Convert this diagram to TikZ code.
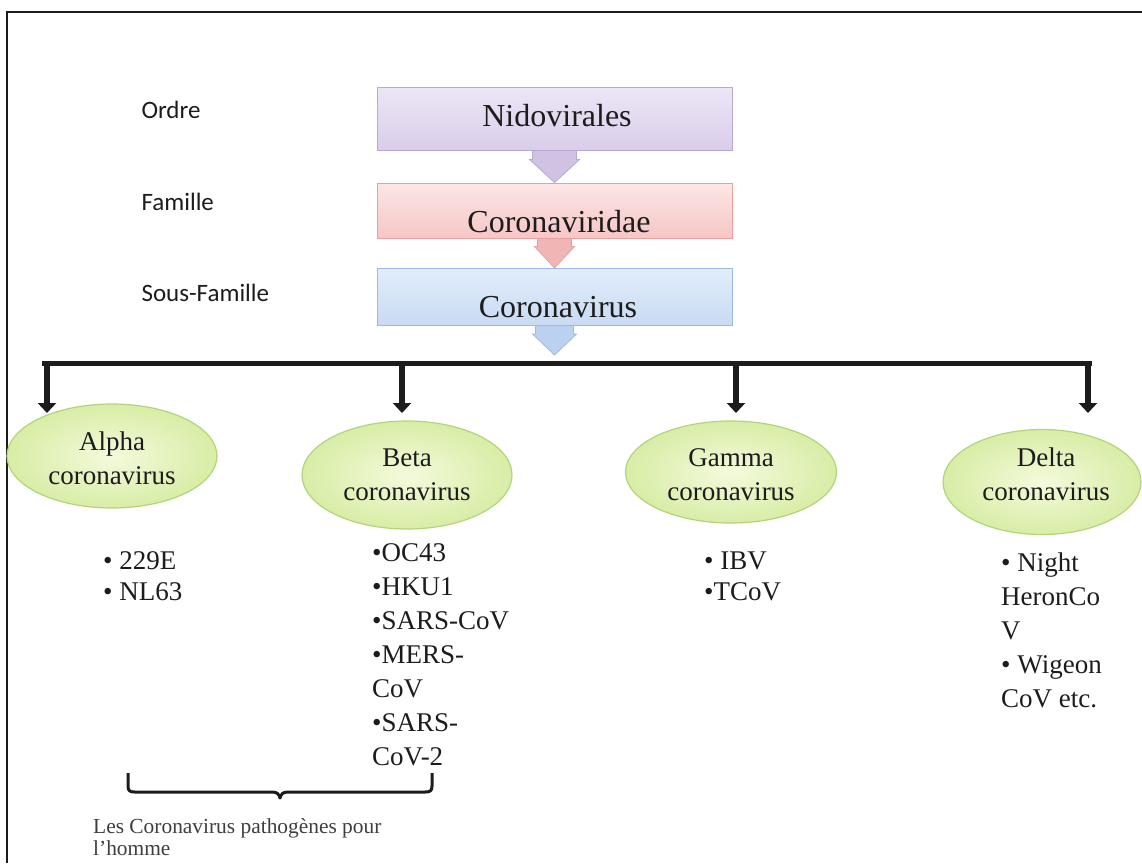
\documentclass[tikz,border=0pt]{standalone}
\usepackage{fontspec}
\setmainfont{Liberation Serif}
\newfontfamily\calibri{Carlito}
\usetikzlibrary{shapes.geometric,arrows.meta,backgrounds}
\definecolor{ink}{HTML}{1C1C1C}
\definecolor{pTop}{HTML}{EDE6F6}\definecolor{pBot}{HTML}{DACDEA}\definecolor{pLine}{HTML}{B8A8D6}\definecolor{pArrow}{HTML}{CFC2E3}
\definecolor{rTop}{HTML}{FCE6E6}\definecolor{rBot}{HTML}{F6C6C6}\definecolor{rLine}{HTML}{E6A0A0}\definecolor{rArrow}{HTML}{F2B5B5}
\definecolor{bTop}{HTML}{E2EDFA}\definecolor{bBot}{HTML}{C8DAF3}\definecolor{bLine}{HTML}{9DBBE2}\definecolor{bArrow}{HTML}{BCD1EF}
\definecolor{gIn}{HTML}{F4FADC}\definecolor{gOut}{HTML}{D8EDA6}\definecolor{gLine}{HTML}{B3D47C}
\begin{document}
\begin{tikzpicture}[x=1pt,y=-1pt,
  taxbox/.style={rectangle, minimum width=355pt, inner sep=0pt, line width=1pt},
  taxtext/.style={font=\fontsize{32}{37}\selectfont, text=ink},
  rank/.style={anchor=west, font=\calibri\fontsize{25}{29}\selectfont, text=ink},
  genus/.style={ellipse, inner sep=0pt, line width=1.2pt, draw=gLine, inner color=gIn, outer color=gOut},
  genustext/.style={align=center, text=ink, font=\fontsize{27}{34}\selectfont},
  listtxt/.style={anchor=north west, inner sep=0pt, align=left, text=ink},
  drop/.style={line width=6.5pt, -{Triangle[width=18pt,length=10pt]}},
  bar/.style={line width=5pt}]
\useasboundingbox (0,0) rectangle (1142,863);

% frame
\coordinate (fbl) at (7,863);
\coordinate (ftl) at (7,12);
\coordinate (ftr) at (1142,12);
\draw[line width=2pt, ink] (fbl) -- (ftl) -- (ftr);

% rank labels
\node[rank] (ordre) at (138,110) {Ordre};
\node[rank] (famille) at (138,202) {Famille};
\node[rank] (sousfam) at (138,293) {Sous-Famille};

% taxonomy boxes
\node[taxbox, minimum height=63pt, draw=pLine, top color=pTop, bottom color=pBot] (b1) at (554.5,118.5) {};
\node[taxbox, minimum height=55pt, draw=rLine, top color=rTop, bottom color=rBot] (b2) at (554.5,210.5) {};
\node[taxbox, minimum height=57pt, draw=bLine, top color=bTop, bottom color=bBot] (b3) at (554.5,297) {};
\node[taxtext] (t1) at (557,116) {Nidovirales};
\node[taxtext] (t2) at (559,222) {Coronaviridae};
\node[taxtext] (t3) at (558,307) {Coronavirus};

\coordinate (tip3) at (554.5,355);

\begin{scope}[on background layer]
\path[fill=pArrow, draw=pLine, line width=0.8pt]
  ([xshift=-22pt,yshift=3pt]b1.south) -- ([xshift=-22pt,yshift=-9pt]b1.south) -- ([xshift=-25pt,yshift=-9pt]b1.south)
  -- (b2.north) -- ([xshift=25pt,yshift=-9pt]b1.south) -- ([xshift=22pt,yshift=-9pt]b1.south) -- ([xshift=22pt,yshift=3pt]b1.south) -- cycle;
\path[fill=rArrow, draw=rLine, line width=0.8pt]
  ([xshift=-17pt,yshift=3pt]b2.south) -- ([xshift=-17pt,yshift=-8pt]b2.south) -- ([xshift=-20pt,yshift=-8pt]b2.south)
  -- (b3.north) -- ([xshift=20pt,yshift=-8pt]b2.south) -- ([xshift=17pt,yshift=-8pt]b2.south) -- ([xshift=17pt,yshift=3pt]b2.south) -- cycle;
\path[fill=bArrow, draw=bLine, line width=0.8pt]
  ([xshift=-19pt,yshift=3pt]b3.south) -- ([xshift=-19pt,yshift=-8pt]b3.south) -- ([xshift=-22pt,yshift=-8pt]b3.south)
  -- (tip3) -- ([xshift=22pt,yshift=-8pt]b3.south) -- ([xshift=19pt,yshift=-8pt]b3.south) -- ([xshift=19pt,yshift=3pt]b3.south) -- cycle;
\end{scope}

% genus ellipses
\node[genus, minimum width=210pt, minimum height=104pt] (alpha) at (112,456) {};
\node[genus, minimum width=210pt, minimum height=108pt] (beta) at (407,475) {};
\node[genus, minimum width=211pt, minimum height=102pt] (gamma) at (731,472) {};
\node[genus, minimum width=198pt, minimum height=105pt] (delta) at (1042,482) {};
\node[genustext] (alphat) at ([yshift=-2pt]alpha.center) {Alpha\\coronavirus};
\node[genustext] (betat) at (beta.center) {Beta\\coronavirus};
\node[genustext] (gammat) at ([yshift=-3pt]gamma.center) {Gamma\\coronavirus};
\node[genustext] (deltat) at ([xshift=4pt,yshift=8pt]delta.center) {Delta\\coronavirus};

% distribution bar and drop arrows
\coordinate (hl) at (42,363);
\coordinate (hr) at (1092,363);
\coordinate (ha) at (47,361);
\coordinate (hb) at (402,361);
\coordinate (hg) at (736,361);
\coordinate (hd) at (1088,361);
\coordinate (da) at (47,413);
\coordinate (db) at (402,413);
\coordinate (dg) at (736,413);
\coordinate (dd) at (1088,413);
\draw[bar, ink] (hl) -- (hr);
\draw[drop, ink] (ha) -- (da);
\draw[drop, ink] (hb) -- (db);
\draw[drop, ink] (hg) -- (dg);
\draw[drop, ink] (hd) -- (dd);

% species lists
\node[listtxt, font=\fontsize{27}{31}\selectfont] (la) at (103,548) {\strut• 229E\\\strut• NL63};
\node[listtxt, font=\fontsize{27}{34}\selectfont] (lb) at (372,537) {\strut•OC43\\\strut•HKU1\\\strut•SARS-CoV\\\strut•MERS-\\\strut CoV\\\strut•SARS-\\\strut CoV-2};
\node[listtxt, font=\fontsize{27}{31}\selectfont] (lg) at (704,548) {\strut• IBV\\\strut•TCoV};
\node[listtxt, font=\fontsize{27}{34}\selectfont] (ld) at (1001,547) {\strut• Night\\\strut HeronCo\\\strut V\\\strut• Wigeon\\\strut CoV etc.};

% brace and caption
\draw[line width=3pt, ink, line join=round]
  (128,773) -- (128,786) .. controls (128,791) and (130,792) .. (135,792) -- (272,792)
  .. controls (277,792) and (279,794) .. (280,798) .. controls (281,794) and (283,792) .. (288,792)
  -- (425,792) .. controls (430,792) and (432,791) .. (432,786) -- (432,773);
\node[anchor=north west, inner sep=0pt, align=left, text=ink!85, font=\fontsize{21.4}{22}\selectfont] (cap) at (93,818)
  {Les Coronavirus pathogènes pour\\l'homme};
\end{tikzpicture}
\end{document}
